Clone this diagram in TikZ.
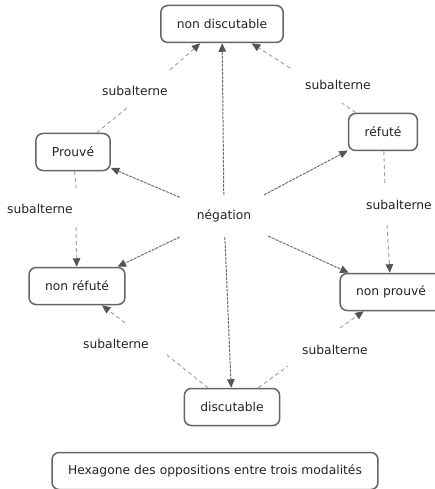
\documentclass[tikz,border=0pt]{standalone}
\usepackage{fontspec}
\setmainfont{DejaVu Sans}
\usetikzlibrary{arrows.meta}
\definecolor{boxgray}{HTML}{656565}
\definecolor{textgray}{HTML}{222222}
\definecolor{neggray}{HTML}{707070}
\definecolor{subgray}{HTML}{A5A5A5}
\definecolor{tipgray}{HTML}{555555}
\begin{document}
\begin{tikzpicture}[x=1pt,y=-1pt,
	concept/.style={draw=boxgray, line width=1.5pt, rounded corners=7pt, minimum height=37pt, inner xsep=16pt, text=textgray, font=\fontsize{12.3}{14}\selectfont},
	phrase/.style={text=textgray, inner sep=0pt, font=\fontsize{12.3}{14}\selectfont},
	neg/.style={draw=neggray, line width=1pt, dash pattern=on 3pt off 1pt, -{Triangle[width=7.5pt,length=8.5pt,color=tipgray]}},
	sub/.style={draw=subgray, line width=1pt, dash pattern=on 4pt off 3pt},
	subarrow/.style={sub, -{Triangle[width=7.5pt,length=8.5pt,color=tipgray]}}]
		\clip (0,0) rectangle (435,489);
		
		% concepts
		\node [concept] (nd) at (222,24) {non discutable};
		\node [concept] (prv) at (73,152) {Prouvé};
		\node [concept] (ref) at (383,132) {réfuté};
		\node [concept] (nrf) at (77,286) {non réfuté};
		\node [concept] (npr) at (391,292) {non prouvé};
		\node [concept] (disc) at (232,407) {discutable};
		\node [concept] (title) at (215,471) {Hexagone des oppositions entre trois modalités};
		
		% negation
		\node [phrase, minimum width=88pt, minimum height=42pt] (neg) at (224,216) {négation};
		\draw [neg] (neg) -- (nd);
		\draw [neg] (neg) -- (disc);
		\draw [neg] (neg) -- (prv);
		\draw [neg] (neg) -- (ref);
		\draw [neg] (neg) -- (nrf);
		\draw [neg] (neg) -- (npr);
		
		% subalterne
		\node [phrase] (s1) at (135,91) {subalterne};
		\node [phrase] (s2) at (338,85) {subalterne};
		\node [phrase] (s3) at (40,209) {subalterne};
		\node [phrase] (s4) at (399,205) {subalterne};
		\node [phrase] (s5) at (116,344) {subalterne};
		\node [phrase] (s6) at (335,350) {subalterne};
		
		\coordinate (a1) at (127,108); \coordinate (a2) at (170,70);
		\coordinate (b1) at (342,103); \coordinate (b2) at (290,68);
		\coordinate (c1) at (76,188);  \coordinate (c2) at (76,227);
		\coordinate (d1) at (385,183); \coordinate (d2) at (387,225);
		\coordinate (e1) at (167,355); \coordinate (e2) at (125,323);
		\coordinate (f1) at (288,366); \coordinate (f2) at (340,328);
		
		\draw [sub] (prv) -- (a1);  \draw [subarrow] (a2) -- (nd);
		\draw [sub] (ref) -- (b1);  \draw [subarrow] (b2) -- (nd);
		\draw [sub] (prv) -- (c1);  \draw [subarrow] (c2) -- (nrf);
		\draw [sub] (ref) -- (d1);  \draw [subarrow] (d2) -- (npr);
		\draw [sub] (disc) -- (e1); \draw [subarrow] (e2) -- (nrf);
		\draw [sub] (disc) -- (f1); \draw [subarrow] (f2) -- (npr);
	\end{tikzpicture}
\end{document}
